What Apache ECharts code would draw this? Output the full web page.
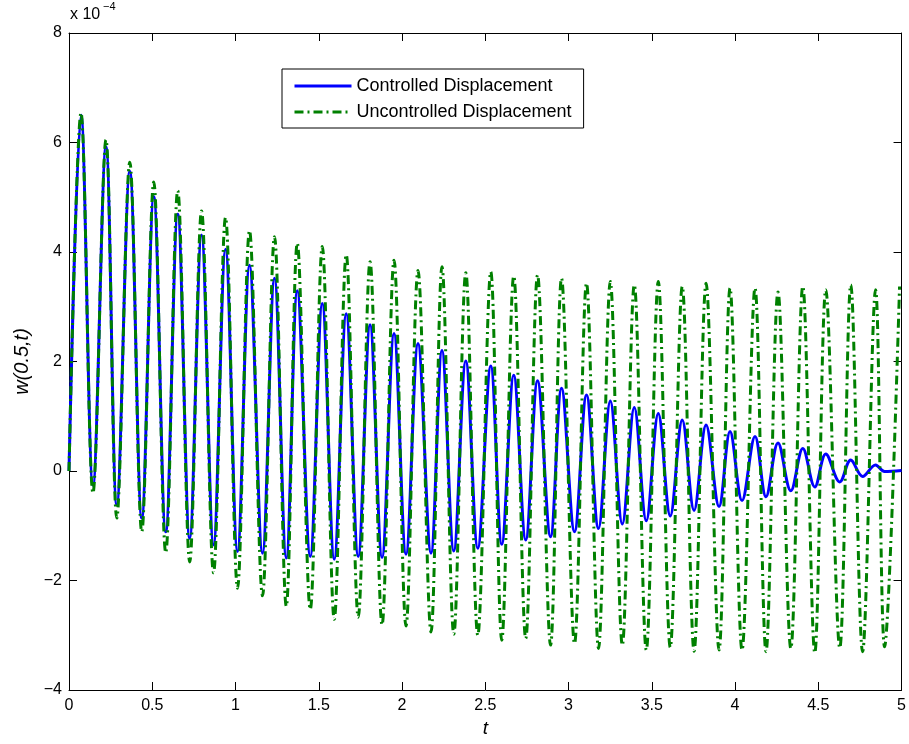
<!DOCTYPE html>
<html>
<head>
<meta charset="utf-8">
<script src="https://cdn.jsdelivr.net/npm/echarts@6/dist/echarts.min.js"></script>
<style>
  html, body { margin: 0; padding: 0; background: #fff; }
  #chart { width: 909px; height: 744px; }
</style>
</head>
<body>
<div id="chart"></div>
<script>
// Times (s) of successive maxima and minima
const tPeaks = [0.072,0.222,0.365,0.509,0.653,0.796,0.940,1.084,1.234,1.371,1.521,1.665,1.808,1.952,2.096,2.240,2.383,2.533,2.671,2.814,2.958,3.108,3.251,3.395,3.539,3.683,3.826,3.970,4.120,4.258,4.407,4.545,4.695,4.844,4.988];
const tTroughs = [0.144,0.287,0.437,0.581,0.725,0.868,1.012,1.162,1.305,1.449,1.593,1.737,1.880,2.024,2.174,2.311,2.455,2.599,2.743,2.892,3.036,3.180,3.323,3.467,3.611,3.754,3.904,4.042,4.186,4.335,4.479,4.629,4.766,4.898];

// Values in units of 1e-4
const controlledPeaks = [6.50,5.92,5.47,5.01,4.69,4.31,4.05,3.76,3.52,3.29,3.06,2.87,2.67,2.51,2.33,2.20,2.01,1.92,1.75,1.65,1.51,1.39,1.28,1.16,1.05,0.93,0.84,0.72,0.63,0.51,0.41,0.31,0.20,0.11];
const controlledTroughs = [-0.26,-0.62,-0.86,-1.11,-1.23,-1.35,-1.47,-1.50,-1.59,-1.56,-1.61,-1.56,-1.58,-1.52,-1.50,-1.46,-1.41,-1.34,-1.26,-1.20,-1.11,-1.05,-0.97,-0.91,-0.82,-0.72,-0.65,-0.54,-0.47,-0.36,-0.29,-0.20,-0.10,-0.01];
const controlledStart = [0, 0];
const controlledEnd = [5.0, 0.01];

const uncontrolledPeaks = [6.54,6.05,5.64,5.28,5.12,4.75,4.63,4.39,4.28,4.16,4.10,3.95,3.82,3.85,3.66,3.73,3.62,3.64,3.56,3.58,3.52,3.43,3.46,3.40,3.46,3.37,3.43,3.34,3.34,3.27,3.37,3.31,3.40,3.31,3.37];
const uncontrolledTroughs = [-0.40,-0.86,-1.11,-1.49,-1.66,-1.86,-2.14,-2.28,-2.47,-2.53,-2.71,-2.67,-2.81,-2.83,-2.94,-2.98,-3.00,-3.09,-3.06,-3.18,-3.15,-3.24,-3.18,-3.27,-3.22,-3.29,-3.27,-3.27,-3.30,-3.24,-3.32,-3.23,-3.30,-3.21];
const uncontrolledStart = [0, 0];

const xTicks = { min: 0, max: 5, interval: 0.5 };
const yTicks = { min: -4, max: 8, interval: 2 };

function buildSeries(start, peaks, troughs) {
  const pts = [start];
  const n = Math.max(peaks.length, troughs.length);
  for (let i = 0; i < n; i++) {
    if (i < peaks.length) pts.push([tPeaks[i], peaks[i]]);
    if (i < troughs.length) pts.push([tTroughs[i], troughs[i]]);
  }
  return pts;
}
const controlledData = buildSeries(controlledStart, controlledPeaks, controlledTroughs);
controlledData.push(controlledEnd);
const uncontrolledData = buildSeries(uncontrolledStart, uncontrolledPeaks, uncontrolledTroughs);

const FONT = 'Liberation Sans, Arial, Helvetica, sans-serif';
const chart = echarts.init(document.getElementById('chart'), null, { renderer: 'canvas' });
const minusFmt = v => String(v).replace('-', '\u2212');

chart.setOption({
  animation: false,
  backgroundColor: '#fff',
  grid: { left: 69, right: 5, top: 33, bottom: 54, containLabel: false },
  xAxis: [{
    type: 'value', min: xTicks.min, max: xTicks.max, interval: xTicks.interval,
    position: 'bottom',
    name: 't', nameLocation: 'middle', nameGap: 29,
    nameTextStyle: { fontFamily: FONT, fontSize: 19, fontStyle: 'italic', color: '#000' },
    axisLine: { show: true, onZero: false, lineStyle: { color: '#000', width: 1 } },
    axisTick: { show: true, inside: true, length: 8, lineStyle: { color: '#000' } },
    axisLabel: { fontFamily: FONT, fontSize: 16, color: '#000', margin: 8, formatter: minusFmt },
    splitLine: { show: false }
  }, {
    type: 'value', min: xTicks.min, max: xTicks.max, interval: xTicks.interval,
    position: 'top',
    axisLine: { show: true, onZero: false, lineStyle: { color: '#000', width: 1 } },
    axisTick: { show: true, inside: true, length: 8, lineStyle: { color: '#000' } },
    axisLabel: { show: false },
    splitLine: { show: false }
  }],
  yAxis: [{
    type: 'value', min: yTicks.min, max: yTicks.max, interval: yTicks.interval,
    position: 'left',
    name: 'w(0.5,t)', nameLocation: 'middle', nameGap: 33, nameRotate: 90,
    nameTextStyle: { fontFamily: FONT, fontSize: 20, fontStyle: 'italic', color: '#000' },
    axisLine: { show: true, onZero: false, lineStyle: { color: '#000', width: 1 } },
    axisTick: { show: true, inside: true, length: 8, lineStyle: { color: '#000' } },
    axisLabel: { fontFamily: FONT, fontSize: 16, color: '#000', margin: 7, formatter: minusFmt },
    splitLine: { show: false }
  }, {
    type: 'value', min: yTicks.min, max: yTicks.max, interval: yTicks.interval,
    position: 'right',
    axisLine: { show: true, onZero: false, lineStyle: { color: '#000', width: 1 } },
    axisTick: { show: true, inside: true, length: 8, lineStyle: { color: '#000' } },
    axisLabel: { show: false },
    splitLine: { show: false }
  }],
  legend: {
    orient: 'vertical',
    left: 282, top: 69,
    padding: [7, 12, 6, 11],
    itemWidth: 57, itemHeight: 20, itemGap: 6, itemTextGap: 6,
    backgroundColor: '#fff',
    borderColor: '#000', borderWidth: 1, borderRadius: 0,
    itemStyle: { opacity: 0, color: 'rgba(0,0,0,0)', borderWidth: 0 },
    lineStyle: { width: 3 },
    textStyle: { fontFamily: FONT, fontSize: 18, color: '#000', lineHeight: 20 },
    data: ['Controlled Displacement', 'Uncontrolled Displacement']
  },
  graphic: [
    { type: 'text', left: 70, top: 7, style: { text: 'x 10', fontFamily: FONT, fontSize: 16, fill: '#000' } },
    { type: 'text', left: 103, top: 1, style: { text: '\u22124', fontFamily: FONT, fontSize: 11, fill: '#000' } }
  ],
  series: [{
    name: 'Controlled Displacement',
    type: 'line',
    data: controlledData,
    smooth: 0.36,
    symbol: 'none',
    z: 2,
    lineStyle: { color: '#0000ff', width: 3 },
    itemStyle: { color: '#0000ff' }
  }, {
    name: 'Uncontrolled Displacement',
    type: 'line',
    data: uncontrolledData,
    smooth: 0.36,
    symbol: 'none',
    z: 3,
    lineStyle: { color: '#008000', width: 3, type: [9, 4, 2, 4] },
    itemStyle: { color: '#008000' }
  }]
});
</script>
</body>
</html>
